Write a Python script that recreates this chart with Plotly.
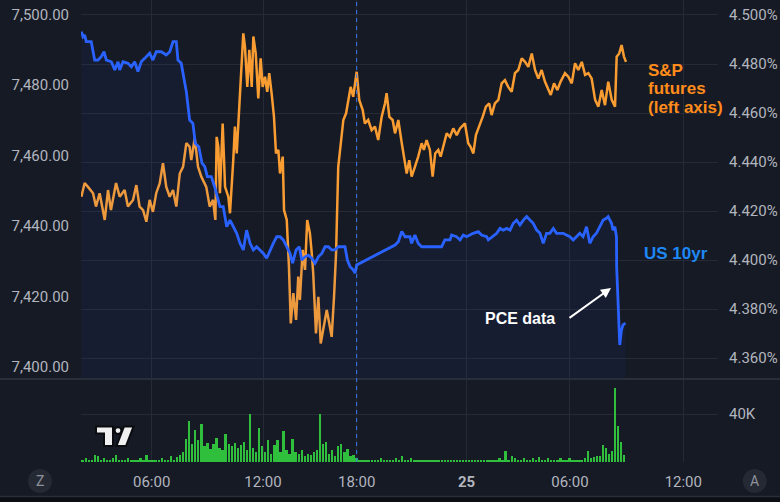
import plotly.graph_objects as go

# ---------------- data ----------------
# time axis: trading-session hours (the 17:00-18:00 break is collapsed)
spx_t = [2.03,2.21,2.39,2.67,2.83,3.03,3.31,3.49,3.65,3.93,4.13,4.40,4.58,4.86,5.04,5.22,5.41,5.59,5.77,5.95,
         6.13,6.32,6.50,6.68,6.87,7.05,7.23,7.42,7.60,7.78,7.96,8.05,8.24,8.42,8.60,8.87,9.06,9.24,9.37,
         9.44,9.53,9.62,9.77,9.90,10.08,10.17,10.35,10.44,10.54,10.72,10.81,10.90,10.99,11.12,11.23,11.36,11.45,11.58,11.72,
         11.85,11.96,12.09,12.21,12.32,12.45,12.58,12.69,12.82,12.91,13.06,13.13,13.28,13.40,13.50,13.64,13.79,13.91,14.00,14.15,
         14.28,14.40,14.55,14.65,14.73,14.88,15.01,15.14,15.28,15.47,15.61,15.74,15.87,15.98,16.10,16.23,16.38,16.53,16.65,16.78,
         16.92,17.11,
         17.25,17.44,17.56,17.74,17.93,18.11,18.29,18.48,18.66,18.75,18.90,19.08,19.21,19.39,19.58,19.70,19.85,19.99,20.12,20.30,
         20.48,20.67,20.79,20.94,21.12,21.27,21.41,21.58,21.71,21.85,22.04,22.22,22.40,22.59,22.77,23.04,23.22,23.35,23.50,23.64,
         23.83,24.01,24.19,24.37,
         24.50,24.68,24.87,25.05,25.23,25.41,25.60,25.78,25.96,26.15,26.33,26.51,26.70,26.88,27.06,27.24,27.42,27.60,27.74,27.92,
         28.10,28.28,28.52,28.70,28.89,29.07,29.25,29.44,29.62,29.80,29.98,30.17,30.35,30.53,30.71,30.89,31.08,31.26,31.35,31.49,
         31.62,31.75,31.86]
spx = [7448.3,7452.2,7451.1,7449.3,7445.5,7449.3,7441.7,7450.2,7444.5,7452.2,7448.3,7450.2,7445.5,7447.4,7451.6,7445.5,7444.5,7441.2,7447.4,7444.0,
       7449.3,7452.1,7457.8,7451.1,7448.3,7450.2,7445.5,7454.9,7456.8,7463.5,7462.5,7458.7,7464.9,7456.8,7454.0,7451.1,7445.5,7447.4,7441.7,
       7465.3,7462.5,7449.3,7469.1,7451.1,7448.3,7443.6,7458.7,7468.2,7460.6,7479.5,7486.2,7494.7,7490.9,7479.5,7490.0,7479.5,7493.8,7489.0,7476.2,
       7487.6,7479.5,7482.4,7478.1,7483.4,7477.7,7471.0,7460.6,7461.6,7454.9,7459.7,7444.5,7441.7,7428.4,7412.3,7420.9,7413.3,7425.6,7419.0,7433.2,
       7427.5,7441.7,7437.9,7432.2,7426.5,7409.5,7419.9,7406.6,7410.4,7416.1,7412.3,7408.5,7419.9,7432.2,7456.8,7462.5,7470.1,7472.0,7475.8,7479.5,
       7476.7,7483.8,
       7475.8,7472.9,7469.1,7470.1,7467.2,7468.2,7464.4,7471.0,7474.8,7477.7,7471.0,7470.1,7466.3,7470.1,7463.5,7459.7,7454.9,7458.7,7454.0,7456.8,
       7459.7,7463.5,7461.6,7464.4,7461.6,7454.0,7460.6,7461.6,7459.7,7462.5,7466.3,7465.3,7467.7,7465.8,7467.7,7469.1,7463.5,7462.5,7460.6,7465.8,
       7468.2,7471.0,7473.9,7474.8,
       7471.5,7474.8,7475.8,7480.5,7481.4,7479.5,7478.1,7483.4,7484.3,7487.6,7486.6,7485.2,7489.0,7484.3,7481.9,7484.3,7481.0,7479.1,7477.2,7480.5,
       7478.6,7481.0,7483.4,7482.4,7480.5,7486.2,7484.3,7486.6,7482.9,7483.4,7481.9,7475.8,7473.9,7478.6,7474.3,7481.0,7475.8,7473.9,7488.1,7489.0,
       7491.4,7488.1,7486.6]

ust_t = [2.03,2.12,2.21,2.30,2.57,2.76,2.94,3.12,3.27,3.40,
         3.67,3.86,4.04,4.13,4.31,4.58,4.77,4.95,5.13,5.31,
         5.50,5.77,5.95,6.13,6.41,6.68,6.87,7.05,7.23,7.32,
         7.50,7.65,7.78,7.96,8.14,8.27,8.46,8.64,8.79,8.93,
         9.15,9.33,9.48,9.62,9.80,9.99,10.17,10.35,10.54,10.72,
         10.90,11.08,11.27,11.45,11.63,11.81,12.00,12.18,12.36,12.54,
         12.73,12.91,13.09,13.28,13.46,13.60,13.79,13.97,14.10,14.28,
         14.46,14.65,14.83,15.01,15.20,15.38,15.56,15.74,15.92,16.10,
         16.29,16.47,16.60,16.75,16.93,17.02,17.11,19.21,19.39,19.58,
         19.76,20.03,20.12,20.30,20.48,20.67,21.30,21.76,21.94,22.22,
         22.31,22.58,22.77,22.95,23.13,23.31,23.49,23.77,23.95,24.23,
         24.32,24.78,24.96,25.14,25.33,25.51,25.69,25.87,26.05,26.24,
         26.42,26.60,26.78,26.97,27.15,27.33,27.51,27.69,27.88,28.06,
         28.24,28.42,28.60,28.79,28.97,29.15,29.33,29.51,29.70,29.88,
         30.06,30.24,30.43,30.61,30.79,30.88,31.07,31.15,31.25,31.34,
         31.35,31.43,31.52,31.61,31.70,31.83]
ust = [4.4932,4.4911,4.4918,4.4891,4.4891,4.4816,4.4816,4.4830,4.4850,4.4816,
       4.4809,4.4776,4.4809,4.4776,4.4809,4.4803,4.4789,4.4809,4.4769,4.4809,
       4.4823,4.4844,4.4816,4.4850,4.4850,4.4837,4.4850,4.4891,4.4891,4.4816,
       4.4803,4.4735,4.4687,4.4571,4.4558,4.4476,4.4462,4.4395,4.4381,4.4340,
       4.4340,4.4299,4.4258,4.4218,4.4218,4.4136,4.4163,4.4136,4.4109,4.4068,
       4.4041,4.4122,4.4068,4.4041,4.4054,4.4041,4.4027,4.4007,4.4041,4.4068,
       4.4095,4.4095,4.4082,4.4054,4.4027,4.3987,4.4041,4.4054,4.4000,4.4013,
       4.4020,4.4007,4.3987,4.4013,4.4027,4.4054,4.4054,4.4041,4.4041,4.4054,
       4.4054,4.4054,4.4000,4.3973,4.3959,4.3946,4.3980,4.4061,4.4075,4.4116,
       4.4095,4.4095,4.4068,4.4102,4.4068,4.4054,4.4054,4.4054,4.4082,4.4082,
       4.4102,4.4095,4.4082,4.4102,4.4095,4.4102,4.4109,4.4116,4.4102,4.4095,
       4.4082,4.4109,4.4129,4.4122,4.4129,4.4122,4.4150,4.4163,4.4143,4.4163,
       4.4177,4.4163,4.4150,4.4122,4.4109,4.4068,4.4109,4.4109,4.4129,4.4109,
       4.4109,4.4109,4.4102,4.4095,4.4082,4.4095,4.4109,4.4095,4.4136,4.4068,
       4.4095,4.4109,4.4136,4.4163,4.4170,4.4177,4.4150,4.4122,4.4136,4.4095,
       4.3973,4.3823,4.3653,4.3714,4.3735,4.3742]

# volume (thousands of contracts), 10-minute bars starting at session hour 2.1
vol_start = 2.1
vol_step = 1 / 6
vol_k = [2,3,1,2,6,5,2,3,2,1, 3,6,2,2,1,3,2,2,1,3, 2,6,1,2,1,2,3,1,2,5,
         2,4,6,8,19,34,15,27,18,32, 13,16,11,15,20,12,10,23,15,13, 16,12,14,17,10,40,12,8,28,13,
         8,18,7,14,18,8,26,10,7,19, 8,7,10,5,7,6,8,10,40,15, 17,7,10,5,13,15,8,11,5,6,
         3,1,2,1,2,1,2,1,3,2, 2,1,2,3,2,5,2,1,3,2, 2,1,2,1,2,2,1,2,2,1,
         2,1,2,2,1,2,1,2,1,2, 2,1,2,2,1,2,1,3,2,9, 2,5,3,2,2,3,2,1,3,2,
         4,2,2,3,2,1,2,3,2,2, 3,2,2,1,2,3,9,3,4,5, 5,14,12,7,9,62,30,17,6]
vol_t = [vol_start + i * vol_step for i in range(len(vol_k))]

session_break = 17.11           # 18:00 session open marker
tick_pos = [5.88, 11.98, 17.11, 23.13, 28.79, 35.0]
tick_txt = ["06:00", "12:00", "18:00", "<b>25</b>", "06:00", "12:00"]
spx_ticks = [7400, 7420, 7440, 7460, 7480, 7500]
ust_ticks = [4.36, 4.38, 4.40, 4.42, 4.44, 4.46, 4.48, 4.50]
ust_tick_txt = [f"{v:.3f}%" for v in ust_ticks]

# ---------------- layout helpers ----------------
W, H = 780, 502
ML, MR, MT, MB = 81, 62, 0, 40
PW, PH = W - ML - MR, H - MT - MB


def px(x):
    return (x - ML) / PW


def py(y):
    return (H - MB - y) / PH


BG = "#161a25"
GRID = "#262a36"
TXT = "#b2b5be"
BLUE = "#2962ff"
ORANGE = "#f99d33"

fig = go.Figure()

fig.add_trace(go.Scatter(x=ust_t, y=ust, yaxis="y2", mode="lines",
                         line=dict(color=BLUE, width=2.8), fill="tozeroy",
                         fillcolor="rgba(41,98,255,0.055)", hoverinfo="skip"))
fig.add_trace(go.Scatter(x=spx_t, y=spx, yaxis="y", mode="lines",
                         line=dict(color=ORANGE, width=2.5), hoverinfo="skip"))
fig.add_trace(go.Bar(x=vol_t, y=vol_k, yaxis="y3", width=0.13,
                     marker=dict(color="#2fbf3c", line=dict(width=0)), hoverinfo="skip"))

tickfont = dict(family="Roboto", size=15, color=TXT)

fig.update_layout(
    width=W, height=H, margin=dict(l=ML, r=MR, t=MT, b=MB),
    paper_bgcolor=BG, plot_bgcolor=BG, showlegend=False, hovermode=False,
    bargap=0,
    xaxis=dict(domain=[0, 1], anchor="y3", range=[2.01, 2.01 + PW / 18.257],
               tickvals=tick_pos, ticktext=tick_txt, showgrid=True, gridcolor=GRID,
               gridwidth=1, zeroline=False, showline=False, ticks="",
               ticklabelstandoff=9, tickfont=tickfont),
    yaxis=dict(domain=[py(378), 1], anchor="x", side="left",
               range=[7396.81, 7504.18], tickvals=spx_ticks, tickformat=",.2f",
               showgrid=False, zeroline=False, ticks="", ticklabelstandoff=11,
               tickfont=tickfont),
    yaxis2=dict(overlaying="y", anchor="x", side="right",
                range=[4.35184, 4.50612], tickvals=ust_ticks, ticktext=ust_tick_txt,
                showgrid=True, gridcolor=GRID, zeroline=False,
                ticks="", ticklabelstandoff=10, tickfont=tickfont),
    yaxis3=dict(domain=[0, py(380)], anchor="x", side="right",
                range=[0, 68.33], tickvals=[40], ticktext=["40K"], showgrid=True,
                gridcolor=GRID, zeroline=False, ticks="", ticklabelstandoff=10,
                tickfont=tickfont),
)

shapes = []
# pane separator
shapes.append(dict(type="line", xref="paper", yref="paper", x0=px(0), x1=px(W),
                   y0=py(379), y1=py(379), line=dict(color="#2a2e39", width=2)))
# bottom strip
shapes.append(dict(type="rect", xref="paper", yref="paper", x0=px(0), x1=px(W),
                   y0=py(502), y1=py(496.5), fillcolor="#0c0e13", line=dict(width=0)))
shapes.append(dict(type="line", xref="paper", yref="paper", x0=px(0), x1=px(W),
                   y0=py(496.5), y1=py(496.5), line=dict(color="#2a2e39", width=1.5)))
# session marker
shapes.append(dict(type="line", xref="x", yref="paper", x0=session_break, x1=session_break,
                   y0=0, y1=1, line=dict(color="#3a7bf0", width=1, dash="4px,4px")))
# scale buttons
for cx in (40, 754.7):
    shapes.append(dict(type="circle", xref="paper", yref="paper",
                       x0=px(cx - 12), x1=px(cx + 12), y0=py(493), y1=py(469),
                       fillcolor="#252934", line=dict(width=0)))


def poly(pts):
    return "M " + " L ".join(f"{px(a):.5f},{py(b):.5f}" for a, b in pts) + " Z"


logo_line = dict(color="#0b0c10", width=2)
shapes.append(dict(type="path", xref="paper", yref="paper",
                   path=poly([(96, 426.5), (113, 426.5), (113, 446), (104, 446), (104, 433.5), (96, 433.5)]),
                   fillcolor="#f0f0f0", line=logo_line))
shapes.append(dict(type="circle", xref="paper", yref="paper",
                   x0=px(114.6), x1=px(121.4), y0=py(434), y1=py(427.2),
                   fillcolor="#f0f0f0", line=logo_line))
shapes.append(dict(type="path", xref="paper", yref="paper",
                   path=poly([(116.5, 446), (126, 446), (133.5, 426.5), (124, 426.5)]),
                   fillcolor="#f0f0f0", line=logo_line))

fig.update_layout(shapes=shapes)

annots = []
lab = dict(family="Liberation Sans", size=17)
for txt, yy in (("S&P", 71), ("futures", 89), ("(left axis)", 108)):
    annots.append(dict(xref="paper", yref="paper", x=px(646), y=py(yy), text=f"<b>{txt}</b>",
                       showarrow=False, xanchor="left", yanchor="middle",
                       font=dict(color="#ff8c1a", **lab)))
annots.append(dict(xref="paper", yref="paper", x=px(642), y=py(253), text="<b>US 10yr</b>",
                   showarrow=False, xanchor="left", yanchor="middle",
                   font=dict(color="#1e88f5", **lab)))
annots.append(dict(xref="paper", yref="paper", x=px(483), y=py(318), text="<b>PCE data</b>",
                   showarrow=False, xanchor="left", yanchor="middle",
                   font=dict(color="#ffffff", family="Liberation Sans", size=16)))
annots.append(dict(xref="paper", yref="paper", x=px(611), y=py(288), text="",
                   showarrow=True, axref="pixel", ayref="pixel", ax=-43, ay=31,
                   arrowhead=2, arrowsize=1, arrowwidth=2, arrowcolor="#ffffff",
                   standoff=0, startstandoff=0))
for cx, t in ((40, "Z"), (754.7, "A")):
    annots.append(dict(xref="paper", yref="paper", x=px(cx), y=py(481), text=t,
                       showarrow=False, xanchor="center", yanchor="middle",
                       font=dict(color="#8f929b", family="Roboto", size=14)))
fig.update_layout(annotations=annots)

fig.write_html("out.html")
